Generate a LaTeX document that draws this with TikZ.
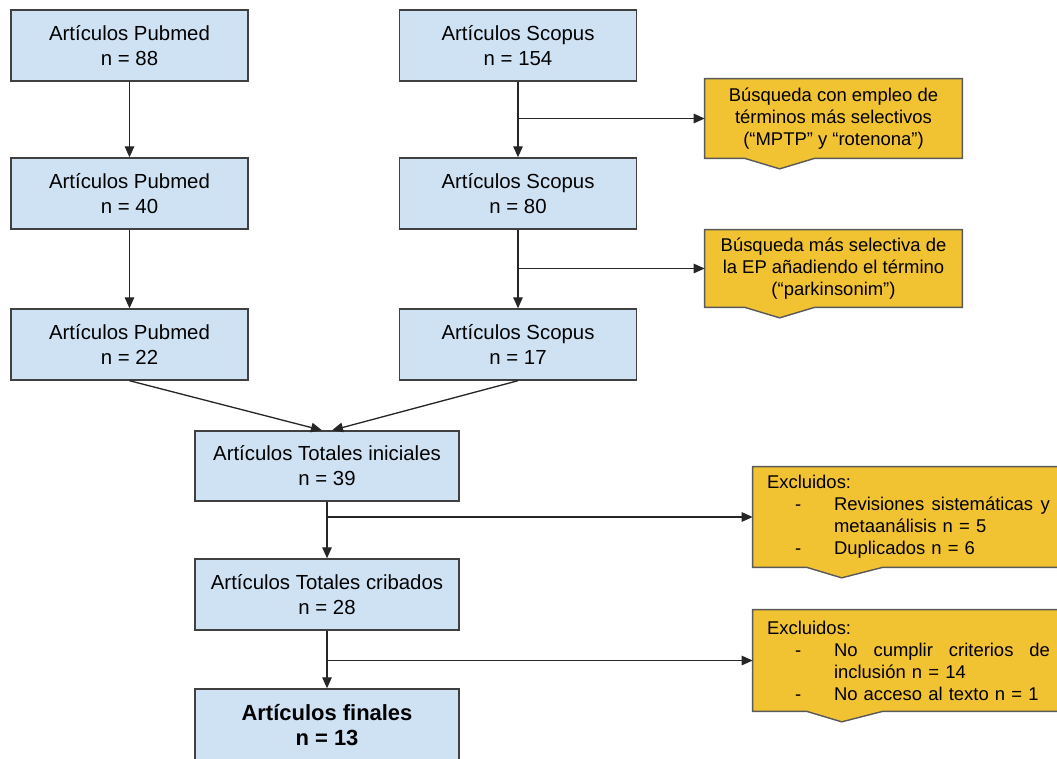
\documentclass[tikz,border=0pt]{standalone}
\usepackage{fontspec}
\setmainfont{Liberation Sans}
\usepackage{tikz}
\usetikzlibrary{arrows.meta,positioning,calc,backgrounds}

\definecolor{azulcaja}{HTML}{CFE2F3}
\definecolor{amarillo}{HTML}{F1C232}

% pestana inferior de las notas: nodo, inicio, punta, fin (desde el borde izquierdo)
\newcommand{\pestana}[4]{%
  \begin{scope}[on background layer]
    \draw[borde nota] (#1.north west) -- (#1.north east) -- (#1.south east)
      -- ($(#1.south west)+(#4,0)$) -- ($(#1.south west)+(#3,-0.21cm)$)
      -- ($(#1.south west)+(#2,0)$) -- (#1.south west) -- cycle;
  \end{scope}}
\newcommand{\guion}{\hspace*{0.56cm}\makebox[0.78cm][l]{-}}
\newcommand{\sangria}{\hspace*{1.34cm}}

\begin{document}
\begin{tikzpicture}[x=0.02cm,y=-0.02cm]
        \tikzstyle{caja}=[draw=black!75,fill=azulcaja,line width=0.8pt,align=center,
            minimum width=4.74cm,minimum height=1.42cm,inner sep=0pt,
            font=\fontsize{11.6}{14.2}\selectfont]
        \tikzstyle{nota}=[align=center,minimum width=5.14cm,inner sep=0pt,
            font=\fontsize{10.5}{12.7}\selectfont]
        \tikzstyle{borde nota}=[draw=black!65,fill=amarillo,line width=0.8pt]
        \tikzstyle{excluidos}=[align=left,text width=5.66cm,inner xsep=0.28cm,inner ysep=0pt,
            font=\fontsize{10.5}{12.5}\selectfont]
        \tikzstyle{flecha}=[-{Triangle[length=2.2mm,width=1.9mm]},line width=0.75pt,black!85]

        \useasboundingbox (0,0) rectangle (1057,758);
        \clip (0,0) rectangle (1057,758);

        %%% Pubmed
        \node[caja] (pub1) at (129.5,45.5) {Artículos Pubmed\\n = 88};
        \node[caja] (pub2) at (129.5,193.5) {Artículos Pubmed\\n = 40};
        \node[caja] (pub3) at (129.5,344.5) {Artículos Pubmed\\n = 22};

        %%% Scopus
        \node[caja] (sco1) at (518,45.5) {Artículos Scopus\\n = 154};
        \node[caja] (sco2) at (518,193.5) {Artículos Scopus\\n = 80};
        \node[caja] (sco3) at (518,344.5) {Artículos Scopus\\n = 17};

        \node[nota,minimum height=1.58cm] (busq1) at (833.5,118.5) {Búsqueda con empleo de\\términos más selectivos\\(“MPTP” y “rotenona”)};
        \node[nota,minimum height=1.54cm] (busq2) at (833.5,268.5) {Búsqueda más selectiva de\\la EP añadiendo el término\\(“parkinsonim”)};
        \pestana{busq1}{0.8cm}{1.5cm}{2.2cm}
        \pestana{busq2}{0.8cm}{1.5cm}{2.2cm}

        %%% Totales
        \node[caja,minimum width=5.28cm,minimum height=1.4cm] (totini) at (327,466) {Artículos Totales iniciales\\n = 39};
        \node[caja,minimum width=5.28cm] (totcrib) at (327,594.5) {Artículos Totales cribados\\n = 28};
        \node[caja,minimum width=5.28cm,minimum height=1.44cm,font=\fontsize{12.5}{14.4}\selectfont\bfseries] (final) at (327,725) {Artículos finales\\n = 13};

        \node[excluidos,minimum height=2cm] (excl1) at (908.5,517) {Excluidos:\\
            \guion Revisiones\hfill sistemáticas\hfill y\\
            \sangria metaanálisis n = 5\\
            \guion Duplicados n = 6};
        \node[excluidos,minimum height=2.02cm] (excl2) at (908.5,660.5) {Excluidos:\\
            \guion No\hfill cumplir\hfill criterios\hfill de\\
            \sangria inclusión n = 14\\
            \guion No acceso al texto n = 1};
        \pestana{excl1}{1.08cm}{1.78cm}{2.6cm}
        \pestana{excl2}{1.08cm}{1.78cm}{2.6cm}

        \draw[flecha] (pub1) -- (pub2);
        \draw[flecha] (pub2) -- (pub3);
        \draw[flecha] (sco1) -- (sco2);
        \draw[flecha] (sco2) -- (sco3);
        \draw[flecha] (sco1.south |- busq1.west) -- (busq1.west);
        \draw[flecha] (sco2.south |- busq2.west) -- (busq2.west);
        \draw[flecha] (pub3.south) -- ([xshift=-0.1cm]totini.north);
        \draw[flecha] (sco3.south) -- ([xshift=0.1cm]totini.north);
        \draw[flecha] (totini) -- (totcrib);
        \draw[flecha] (totini.south |- excl1.west) -- (excl1.west);
        \draw[flecha] (totcrib) -- (final);
        \draw[flecha] (totcrib.south |- excl2.west) -- (excl2.west);
    \end{tikzpicture}
\end{document}
